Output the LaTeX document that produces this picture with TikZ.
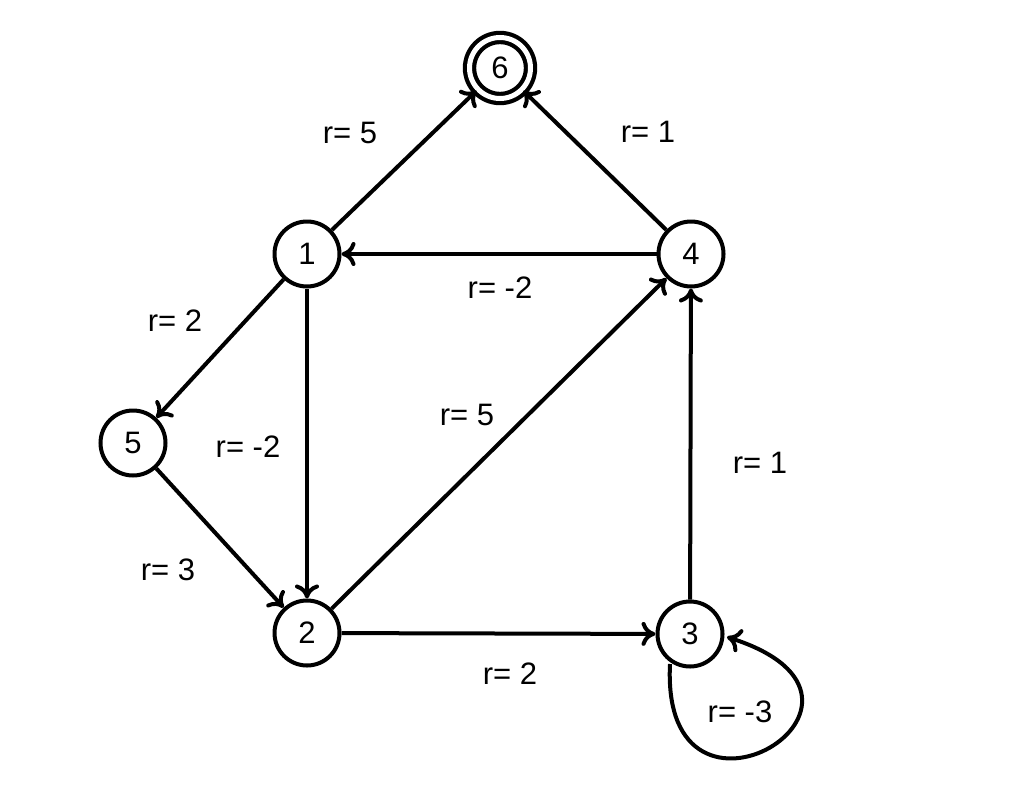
\documentclass[tikz,border=0pt]{standalone}
\usepackage{fontspec}
\setmainfont{Liberation Sans}
\usetikzlibrary{arrows.meta}
\tikzset{
  state/.style={circle,draw,line width=4pt,minimum size=65pt,inner sep=0pt,font=\fontsize{31}{34}\selectfont},
  accepting/.style={double,double distance=5pt,line width=4.2pt,minimum size=61pt},
  edge/.style={line width=4pt,-{To[length=14pt,width=24pt,line width=4pt]}},
  lbl/.style={font=\fontsize{31}{34}\selectfont,inner sep=0pt}
}
\begin{document}
\begin{tikzpicture}[x=1pt,y=-1pt]
\useasboundingbox (0,0) rectangle (1024,800);
\node[state,accepting] (n6) at (500,68) {6};
\node[state] (n1) at (307,254) {1};
\node[state] (n4) at (691,254) {4};
\node[state] (n5) at (133,443) {5};
\node[state] (n2) at (307,633) {2};
\node[state] (n3) at (690,634) {3};
\draw[edge] (n1) -- (n6);
\draw[edge] (n4) -- (n6);
\draw[edge] (n4) -- (n1);
\draw[edge] (n1) -- (n5);
\draw[edge] (n1) -- (n2);
\draw[edge] (n5) -- (n2);
\draw[edge] (n2) -- (n4);
\draw[edge] (n2) -- (n3);
\draw[edge] (n3) -- (n4);
\coordinate (ls) at (670,664);
\coordinate (le) at (727,637);
\draw[edge] (ls) .. controls (660,860) and (925,700) .. (le);
\node[lbl] (l16) at (350,133) {r= 5};
\node[lbl] (l46) at (648,132) {r= 1};
\node[lbl] (l41) at (500,288) {r= -2};
\node[lbl] (l15) at (175,321) {r= 2};
\node[lbl] (l12) at (248,447) {r= -2};
\node[lbl] (l24) at (467,415) {r= 5};
\node[lbl] (l34) at (760,463) {r= 1};
\node[lbl] (l52) at (168,570) {r= 3};
\node[lbl] (l23) at (510,674) {r= 2};
\node[lbl] (l33) at (740,712) {r= -3};
\end{tikzpicture}
\end{document}
